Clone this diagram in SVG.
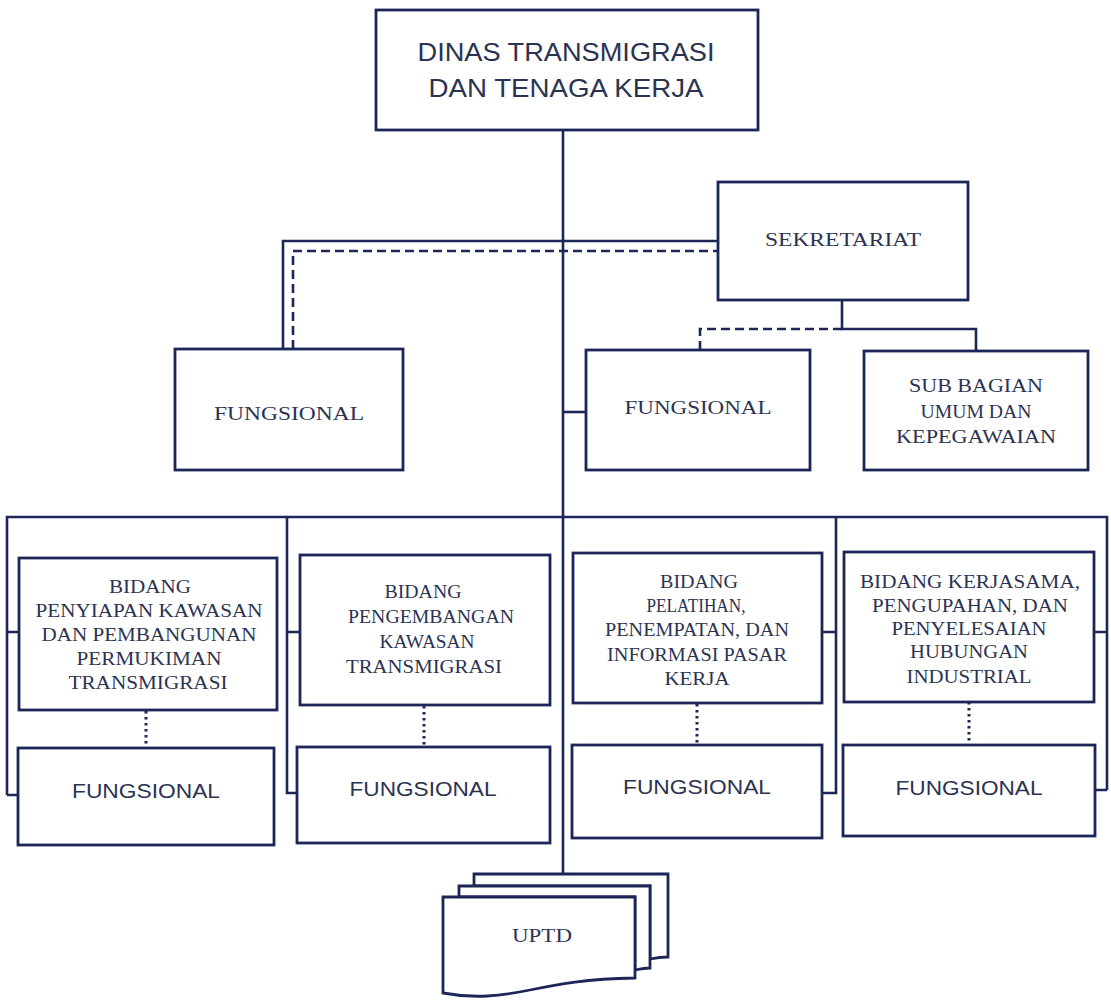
<svg xmlns="http://www.w3.org/2000/svg" width="1111" height="1001" viewBox="0 0 1111 1001">
<style>
.box{fill:#fff;stroke:#1c2658;stroke-width:2.8}
.ln{fill:none;stroke:#1c2658;stroke-width:2.6}
.dash{fill:none;stroke:#1c2658;stroke-width:2.6;stroke-dasharray:9 5}
.dot{fill:none;stroke:#1c2658;stroke-width:3;stroke-dasharray:2.5 3.5}
.sr{font-family:"Liberation Serif","DejaVu Serif",serif;font-size:19px;fill:#2b3352;text-anchor:middle}
.ss{font-family:"Liberation Sans",Arial,sans-serif;font-size:20px;fill:#2b3352;text-anchor:middle}
.tt{font-family:"Liberation Sans",Arial,sans-serif;font-size:25px;fill:#2b3352;text-anchor:middle}
</style>
<rect width="1111" height="1001" fill="#fff"/>
<g id="connectors">
<path class="ln" d="M563,130 V873"/>
<path class="ln" d="M283,349 V241 H718"/>
<path class="dash" d="M293,349 V251 H718"/>
<path class="ln" d="M842,300 V329 H976 V351"/>
<path class="dash" d="M842,329 H700 V350"/>
<path class="ln" d="M563,412 H586"/>
<path class="ln" d="M7,795 V517 H1107 V790"/>
<path class="ln" d="M7,632 H19 M7,795 H18"/>
<path class="ln" d="M297,793 H287 V517 M287,632 H300"/>
<path class="ln" d="M822,793 H836 V517 M836,632 H822"/>
<path class="ln" d="M1107,632 H1094 M1107,790 H1095"/>
<path class="dot" d="M146,711 V747"/>
<path class="dot" d="M424,706 V746"/>
<path class="dot" d="M697,704 V744"/>
<path class="dot" d="M969,702 V744"/>
</g>
<g id="dinas">
<rect class="box" x="376" y="10" width="382" height="120"/>
<text class="tt" x="566" y="61" textLength="297" lengthAdjust="spacingAndGlyphs">DINAS TRANSMIGRASI</text>
<text class="tt" x="566" y="97" textLength="275" lengthAdjust="spacingAndGlyphs">DAN TENAGA KERJA</text>
</g>
<g id="sekretariat">
<rect class="box" x="718" y="182" width="250" height="118"/>
<text class="sr" x="843" y="246" textLength="156" lengthAdjust="spacingAndGlyphs">SEKRETARIAT</text>
</g>
<g id="fungsional-kiri">
<rect class="box" x="175" y="349" width="228" height="121"/>
<text class="sr" x="289" y="420" textLength="150" lengthAdjust="spacingAndGlyphs">FUNGSIONAL</text>
</g>
<g id="fungsional-tengah">
<rect class="box" x="586" y="350" width="224" height="120"/>
<text class="sr" x="698" y="414" textLength="147" lengthAdjust="spacingAndGlyphs">FUNGSIONAL</text>
</g>
<g id="subbagian">
<rect class="box" x="864" y="351" width="224" height="119"/>
<text class="sr" x="976" y="392" textLength="134" lengthAdjust="spacingAndGlyphs">SUB BAGIAN</text>
<text class="sr" x="976" y="418" textLength="111" lengthAdjust="spacingAndGlyphs">UMUM DAN</text>
<text class="sr" x="976" y="443" textLength="160" lengthAdjust="spacingAndGlyphs">KEPEGAWAIAN</text>
</g>
<g id="bidang1">
<rect class="box" x="19" y="558" width="258" height="152"/>
<text class="sr" x="150" y="593" textLength="82" lengthAdjust="spacingAndGlyphs">BIDANG</text>
<text class="sr" x="149" y="617" textLength="227" lengthAdjust="spacingAndGlyphs">PENYIAPAN KAWASAN</text>
<text class="sr" x="149" y="641" textLength="215" lengthAdjust="spacingAndGlyphs">DAN PEMBANGUNAN</text>
<text class="sr" x="149" y="665" textLength="145" lengthAdjust="spacingAndGlyphs">PERMUKIMAN</text>
<text class="sr" x="148" y="689" textLength="159" lengthAdjust="spacingAndGlyphs">TRANSMIGRASI</text>
</g>
<g id="fungsional1">
<rect class="box" x="18" y="748" width="256" height="97"/>
<text class="ss" x="146" y="798" textLength="148" lengthAdjust="spacingAndGlyphs">FUNGSIONAL</text>
</g>
<g id="bidang2">
<rect class="box" x="300" y="555" width="250" height="150"/>
<text class="sr" x="423" y="598" textLength="77" lengthAdjust="spacingAndGlyphs">BIDANG</text>
<text class="sr" x="431" y="623" textLength="166" lengthAdjust="spacingAndGlyphs">PENGEMBANGAN</text>
<text class="sr" x="427" y="648" textLength="95" lengthAdjust="spacingAndGlyphs">KAWASAN</text>
<text class="sr" x="424" y="673" textLength="156" lengthAdjust="spacingAndGlyphs">TRANSMIGRASI</text>
</g>
<g id="fungsional2">
<rect class="box" x="297" y="747" width="253" height="96"/>
<text class="ss" x="423" y="796" textLength="147" lengthAdjust="spacingAndGlyphs">FUNGSIONAL</text>
</g>
<g id="bidang3">
<rect class="box" x="573" y="553" width="249" height="150"/>
<text class="sr" x="699" y="588" textLength="78" lengthAdjust="spacingAndGlyphs">BIDANG</text>
<text class="sr" x="696" y="612" textLength="99" lengthAdjust="spacingAndGlyphs">PELATIHAN,</text>
<text class="sr" x="697" y="636" textLength="184" lengthAdjust="spacingAndGlyphs">PENEMPATAN, DAN</text>
<text class="sr" x="697" y="661" textLength="180" lengthAdjust="spacingAndGlyphs">INFORMASI PASAR</text>
<text class="sr" x="697" y="685" textLength="65" lengthAdjust="spacingAndGlyphs">KERJA</text>
</g>
<g id="fungsional3">
<rect class="box" x="572" y="745" width="250" height="93"/>
<text class="ss" x="697" y="794" textLength="148" lengthAdjust="spacingAndGlyphs">FUNGSIONAL</text>
</g>
<g id="bidang4">
<rect class="box" x="844" y="552" width="250" height="150"/>
<text class="sr" x="970" y="588" textLength="220" lengthAdjust="spacingAndGlyphs">BIDANG KERJASAMA,</text>
<text class="sr" x="970" y="612" textLength="196" lengthAdjust="spacingAndGlyphs">PENGUPAHAN, DAN</text>
<text class="sr" x="969" y="635" textLength="155" lengthAdjust="spacingAndGlyphs">PENYELESAIAN</text>
<text class="sr" x="969" y="658" textLength="118" lengthAdjust="spacingAndGlyphs">HUBUNGAN</text>
<text class="sr" x="969" y="683" textLength="125" lengthAdjust="spacingAndGlyphs">INDUSTRIAL</text>
</g>
<g id="fungsional4">
<rect class="box" x="843" y="745" width="252" height="91"/>
<text class="ss" x="969" y="795" textLength="147" lengthAdjust="spacingAndGlyphs">FUNGSIONAL</text>
</g>
<g id="uptd">
<path class="box" d="M474,874 H668 V957 C660,957 655,958 650,959 L650,886 H474 Z"/>
<path class="box" d="M459,886 H650 V968 C645,968 640,969 635,970 L635,897 H459 Z"/>
<path class="box" d="M443,897 H635 V978 C585,979 560,984 530,990 C500,996 475,999 443,993 Z"/>
<text class="sr" x="542" y="942" textLength="60" lengthAdjust="spacingAndGlyphs">UPTD</text>
</g>
</svg>
